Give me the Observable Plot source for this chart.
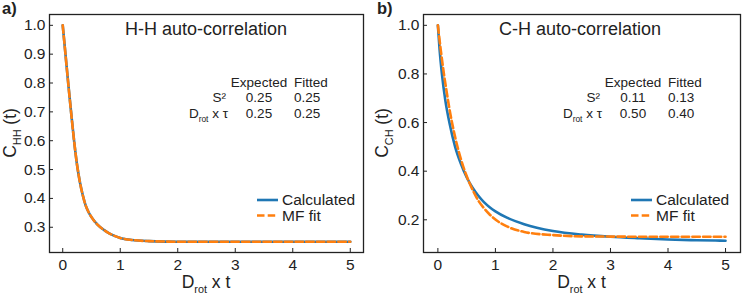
<!DOCTYPE html>
<html><head><meta charset="utf-8">
<script src="https://cdn.jsdelivr.net/npm/d3@7"></script>
<script src="https://cdn.jsdelivr.net/npm/@observablehq/plot@0.6"></script>
<style>
body{margin:0;background:#fff;}
#wrap{position:relative;width:747px;height:296px;overflow:hidden;background:#fff;}
#pa,#pb{position:absolute;top:0;}
#pa{left:0;} #pb{left:372px;}
</style></head><body><div id="wrap"><div id="pa"></div><div id="pb"></div></div>
<script>
// ---- data ----
const xTicks = [0, 1, 2, 3, 4, 5];
const hhYTicks = [0.3, 0.4, 0.5, 0.6, 0.7, 0.8, 0.9, 1.0];
const chYTicks = [0.2, 0.4, 0.6, 0.8, 1.0];

const hhT          = [0, 0.05, 0.1, 0.15, 0.2, 0.25, 0.3, 0.35, 0.4, 0.45, 0.5, 0.6, 0.7, 0.8, 0.9, 1.0, 1.2, 1.5, 2, 3, 4, 5];
const hhCalculated = [1.0, 0.895, 0.79, 0.69, 0.595, 0.515, 0.455, 0.41, 0.375, 0.352, 0.335, 0.31, 0.293, 0.28, 0.27, 0.263, 0.256, 0.252, 0.25, 0.25, 0.25, 0.25];
const hhFit        = [1.0, 0.895, 0.79, 0.69, 0.595, 0.515, 0.455, 0.41, 0.375, 0.352, 0.335, 0.31, 0.293, 0.28, 0.27, 0.263, 0.256, 0.252, 0.25, 0.25, 0.25, 0.25];

const chCalcT      = [0, 0.03, 0.07, 0.13, 0.2, 0.3, 0.4, 0.5, 0.6, 0.7, 0.8, 0.9, 1.0, 1.2, 1.5, 2.0, 2.5, 3.0, 3.5, 4.0, 4.5, 5.0];
const chCalculated = [1.0, 0.9, 0.8, 0.69, 0.6, 0.5, 0.43, 0.375, 0.333, 0.3, 0.273, 0.252, 0.235, 0.209, 0.182, 0.154, 0.139, 0.13, 0.124, 0.119, 0.116, 0.114];
const chFitT       = [0, 0.05, 0.1, 0.15, 0.2, 0.3, 0.4, 0.5, 0.6, 0.7, 0.8, 0.9, 1.0, 1.2, 1.5, 2.0, 2.5, 3.0, 4.0, 5.0];
const chFit        = [1.0, 0.898, 0.808, 0.73, 0.657, 0.54, 0.45, 0.38, 0.325, 0.28, 0.248, 0.222, 0.201, 0.173, 0.15, 0.137, 0.132, 0.131, 0.13, 0.13];

const seriesNames = ["Calculated", "MF fit"];
const tableHeaders = ["Expected", "Fitted"];
const hhS2 = ["0.25", "0.25"];
const hhDtau = ["0.25", "0.25"];
const chS2 = ["0.11", "0.13"];
const chDtau = ["0.50", "0.40"];
const titles = ["H-H auto-correlation", "C-H auto-correlation"];
const panelLetters = ["a)", "b)"];
const yLabelSubs = ["HH", "CH"];

// ---- styling ----
const BLUE = "#1f77b4", ORANGE = "#ff7f0e", INK = "#222";
const FONT = '"Liberation Sans", Arial, Helvetica, sans-serif';

function rows(ts, vs) { return ts.map((t, i) => ({t, c: vs[i]})); }

function txt(g, x, y, parts, {size = 14, anchor = "start", weight = "normal", rotate = 0} = {}) {
  const t = g.append("text")
    .attr("transform", `translate(${x},${y})` + (rotate ? ` rotate(${rotate})` : ""))
    .attr("text-anchor", anchor)
    .attr("font-family", FONT)
    .attr("font-size", size)
    .attr("font-weight", weight)
    .attr("fill", INK);
  let shift = 0;
  for (const p of parts) {
    const [s, kind] = Array.isArray(p) ? p : [p, null];
    const sp = t.append("tspan").text(s);
    if (kind === "sub") {
      const d = size * 0.3;
      sp.attr("font-size", size * 0.62).attr("dy", d - shift);
      shift = d;
    } else {
      if (shift) sp.attr("dy", -shift);
      shift = 0;
    }
  }
  return t;
}

function panel(el, cfg) {
  const {width, marginLeft, xDomain, yDomain, yTicks, calc, fit, idx, s2, dtau, letterX} = cfg;
  const marginRight = 7, marginTop = 14, marginBottom = 44, height = 296;
  const chart = Plot.plot({
    width, height, marginLeft, marginRight, marginTop, marginBottom,
    style: {fontFamily: FONT, fontSize: "15.5px", color: INK, background: "transparent", overflow: "visible"},
    x: {domain: xDomain},
    y: {domain: yDomain},
    marks: [
      Plot.line(calc, {x: "t", y: "c", stroke: BLUE, strokeWidth: 2.6, curve: "monotone-x"}),
      Plot.line(fit, {x: "t", y: "c", stroke: ORANGE, strokeWidth: 2.6, strokeDasharray: "7.5,3.2", curve: "monotone-x"}),
      Plot.axisX({ticks: xTicks, anchor: "bottom", tickSize: -4, tickPadding: 10, label: null, tickFormat: d3.format("d")}),
      Plot.axisY({ticks: yTicks, anchor: "left", tickSize: -4, tickPadding: 8, label: null, tickFormat: d3.format(".1f")}),
      Plot.frame({stroke: INK, strokeWidth: 1.3})
    ]
  });
  el.appendChild(chart);
  const g = d3.select(chart).append("g");
  const fl = marginLeft, fw = width - marginLeft - marginRight;
  // panel letter
  txt(g, letterX, 14, [panelLetters[idx]], {size: 16.5, weight: "bold"});
  // title
  txt(g, fl + 157, 35, [titles[idx]], {size: 18, anchor: "middle"});
  // parameter table
  txt(g, fl + 210, 87, [tableHeaders[0]], {size: 13.5, anchor: "middle"});
  txt(g, fl + 245, 87, [tableHeaders[1]], {size: 13.5});
  txt(g, fl + 177, 102, ["S²"], {size: 13.5, anchor: "end"});
  txt(g, fl + 210, 102, [s2[0]], {size: 13.5, anchor: "middle"});
  txt(g, fl + 245, 102, [s2[1]], {size: 13.5});
  txt(g, fl + 179, 117.5, ["D", ["rot", "sub"], " x τ"], {size: 13.5, anchor: "end"});
  txt(g, fl + 210, 117.5, [dtau[0]], {size: 13.5, anchor: "middle"});
  txt(g, fl + 245, 117.5, [dtau[1]], {size: 13.5});
  // legend
  g.append("line").attr("x1", fl + 208).attr("x2", fl + 229).attr("y1", 200).attr("y2", 200)
    .attr("stroke", BLUE).attr("stroke-width", 2.6);
  g.append("line").attr("x1", fl + 208).attr("x2", fl + 229).attr("y1", 215.5).attr("y2", 215.5)
    .attr("stroke", ORANGE).attr("stroke-width", 2.6).attr("stroke-dasharray", "7.5,3.2");
  txt(g, fl + 233, 205, [seriesNames[0]], {size: 15.5});
  txt(g, fl + 233, 220.5, [seriesNames[1]], {size: 15.5});
  // axis labels
  txt(g, fl + fw / 2, 288, ["D", ["rot", "sub"], " x t"], {size: 17.5, anchor: "middle"});
  txt(g, 16, marginTop + (height - marginTop - marginBottom) / 2, ["C", [yLabelSubs[idx], "sub"], " (t)"], {size: 17.5, anchor: "middle", rotate: -90});
}

panel(document.getElementById("pa"), {
  width: 370, marginLeft: 49, xDomain: [-0.23, 5.23], yDomain: [0.2125, 1.0375], yTicks: hhYTicks,
  calc: rows(hhT, hhCalculated), fit: rows(hhT, hhFit), idx: 0, s2: hhS2, dtau: hhDtau, letterX: 2
});
panel(document.getElementById("pb"), {
  width: 375, marginLeft: 51, xDomain: [-0.25, 5.26], yDomain: [0.0655, 1.0445], yTicks: chYTicks,
  calc: rows(chCalcT, chCalculated), fit: rows(chFitT, chFit), idx: 1, s2: chS2, dtau: chDtau, letterX: 5
});
</script></body></html>
